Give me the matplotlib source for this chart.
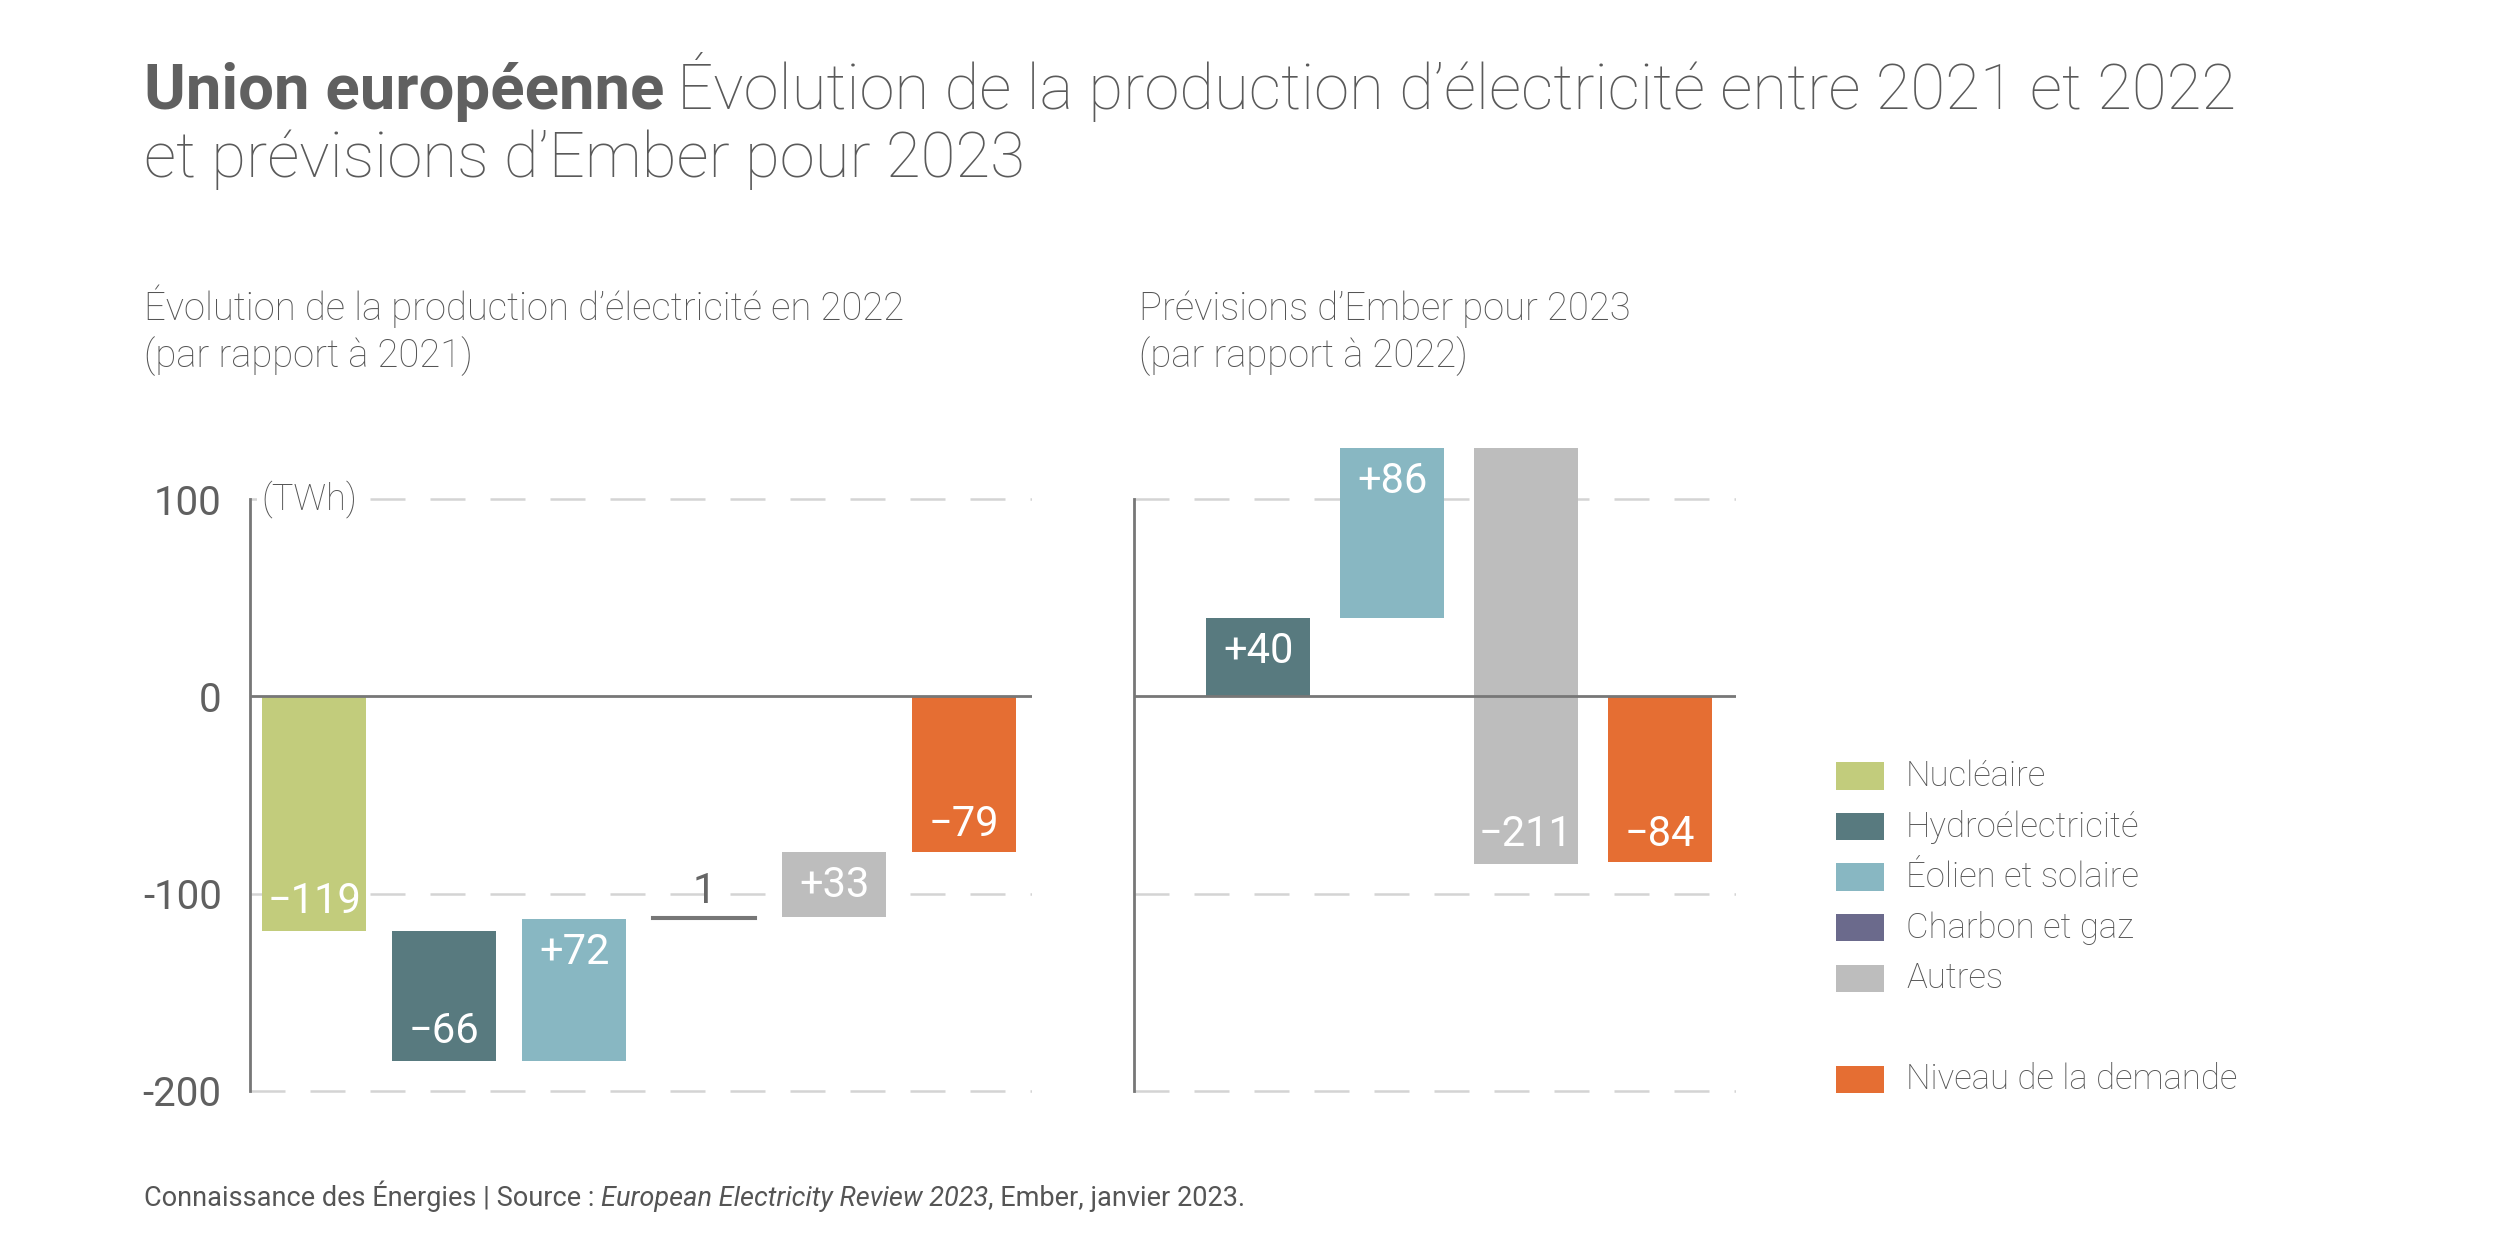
import matplotlib.pyplot as plt
from matplotlib.patches import Rectangle

plt.rcParams['font.family'] = ['Roboto', 'DejaVu Sans']

# data (TWh)
legend_labels = ['Nucléaire', 'Hydroélectricité', 'Éolien et solaire', 'Charbon et gaz', 'Autres', 'Niveau de la demande']
colors = {'Nucléaire': '#c2cc7c', 'Hydroélectricité': '#587a7f', 'Éolien et solaire': '#88b7c2',
          'Charbon et gaz': '#6b6a8c', 'Autres': '#bdbdbd', 'Niveau de la demande': '#e56e33'}

cats_2022 = ['Nucléaire', 'Hydroélectricité', 'Éolien et solaire', 'Charbon et gaz', 'Autres']
vals_2022 = [-119, -66, 72, 1, 33]
demand_2022 = -79

cats_2023 = ['Hydroélectricité', 'Éolien et solaire', 'Autres']
vals_2023 = [40, 86, -211]
demand_2023 = -84

yticks = [100, 0, -100, -200]
ytick_labels = ['100', '0', '-100', '-200']

txt = '#555555'
fig = plt.figure(figsize=(25, 12.5), dpi=100)


def fmt(v):
    return ('+' if v > 0 else '\u2212') + str(abs(v))


def waterfall(ax, cats, vals, demand, width):
    base = 0
    for i, (c, v) in enumerate(zip(cats, vals)):
        end = base + v
        if abs(v) < 5:
            # tiny change: drawn as a thin line
            ax.bar(i, v, bottom=base, width=width, color='#777777', edgecolor='#777777', lw=1.5, zorder=3)
            ax.text(i, end + 13, str(v), ha='center', va='center', color='#666666', fontsize=30, zorder=5)
        else:
            ax.bar(i, v, bottom=base, width=width, color=colors[c], clip_on=False, zorder=3)
            off = 15 if v < 0 else -17
            ax.text(i, end + off, fmt(v), ha='center', va='center', color='white', fontsize=30, zorder=4)
        base = end
    n = len(cats)
    ax.bar(n, demand, width=width, color=colors['Niveau de la demande'], zorder=3)
    ax.text(n, demand + 14, fmt(demand), ha='center', va='center', color='white', fontsize=30, zorder=4)
    ax.set_ylim(-205, 130)
    for y in [100, -100, -200]:
        ax.axhline(y, color='#d4d4d4', lw=1.8, dashes=(14, 10), zorder=1)
    ax.axhline(0, color='#777777', lw=2, zorder=4)
    for s in ['top', 'right', 'bottom']:
        ax.spines[s].set_visible(False)
    ax.spines['left'].set_bounds(-200, 100)
    ax.spines['left'].set_color('#777777')
    ax.spines['left'].set_linewidth(2)
    ax.set_xticks([])


ax1 = fig.add_axes([0.0998, 0.1194, 0.3129, 0.5286])
waterfall(ax1, cats_2022, vals_2022, demand_2022, 0.8)
ax1.set_xlim(-0.5, 5.52)
ax1.set_yticks(yticks)
ax1.set_yticklabels(ytick_labels)
ax1.tick_params(axis='y', length=0, pad=20, labelsize=29, labelcolor='#606060')
ax1.text(-0.41, 100, '(TWh)', ha='left', va='center', fontsize=26, color=txt, fontweight='light',
         zorder=5, bbox=dict(facecolor='white', edgecolor='none', pad=3))

ax2 = fig.add_axes([0.4537, 0.1194, 0.2406, 0.5286])
waterfall(ax2, cats_2023, vals_2023, demand_2023, 0.78)
ax2.set_xlim(-0.926, 3.567)
ax2.set_yticks([])

# titles
fig.canvas.draw()
r = fig.canvas.get_renderer()
W = fig.get_figwidth() * fig.dpi
t = fig.text(0.0576, 0.913, 'Union européenne', fontsize=45.7, fontweight='bold', color='#606060', va='baseline')
bb = t.get_window_extent(r)
fig.text(bb.x1 / W + 0.005, 0.913, 'Évolution de la production d\u2019électricité entre 2021 et 2022',
         fontsize=45.7, fontweight='light', color='#5a5a5a', va='baseline')
fig.text(0.0576, 0.858, 'et prévisions d\u2019Ember pour 2023', fontsize=45.7, fontweight='light',
         color='#5a5a5a', va='baseline')

fig.text(0.0576, 0.744, 'Évolution de la production d\u2019électricité en 2022', fontsize=27.5,
         fontweight='light', color=txt, va='baseline')
fig.text(0.0576, 0.706, '(par rapport à 2021)', fontsize=27.5, fontweight='light', color=txt, va='baseline')
fig.text(0.4555, 0.744, 'Prévisions d\u2019Ember pour 2023', fontsize=27.5, fontweight='light', color=txt, va='baseline')
fig.text(0.4555, 0.706, '(par rapport à 2022)', fontsize=27.5, fontweight='light', color=txt, va='baseline')

# legend
for i, lab in enumerate(legend_labels):
    row = i if i < 5 else 6
    yc = 1 - (485 + row * 31.6) / 781.25
    fig.patches.append(Rectangle((0.7345, yc - 0.0109), 0.0192, 0.0218, transform=fig.transFigure,
                                 facecolor=colors[lab], edgecolor='none'))
    fig.text(0.7624, yc, lab, fontsize=25, fontweight='light', color=txt, va='center')

# footer
parts = [('Connaissance des Énergies | Source : ', 'normal'), ('European Electricity Review 2023', 'italic'),
         (', Ember, janvier 2023.', 'normal')]
x = 0.0576
for s, st in parts:
    t = fig.text(x, 0.035, s, fontsize=19.5, style=st, color='#555555', va='baseline')
    x = t.get_window_extent(r).x1 / W

fig.savefig('out.png', dpi=100, facecolor='white')
